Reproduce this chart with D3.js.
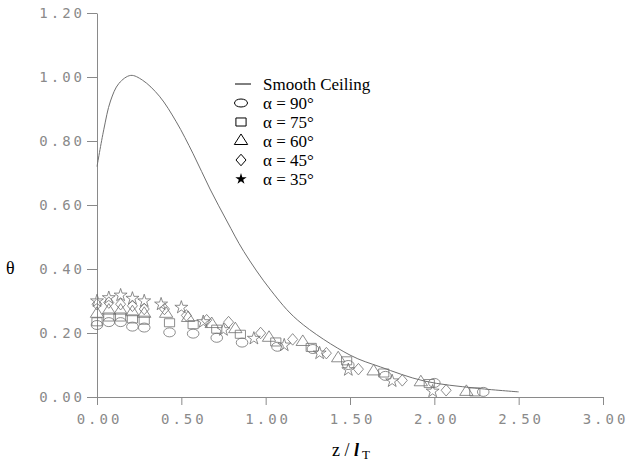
<!DOCTYPE html>
<html>
  <head>
    <meta charset="utf-8">
    <script src="https://d3js.org/d3.v7.min.js"></script>
    <style type="text/css">
      body { margin: 0; background: #ffffff; }
      .tick text { font-family: "DejaVu Sans Mono", monospace; font-size: 14px; fill: #8a8a8a; letter-spacing: 3px; }
      .serif { font-family: "Liberation Serif", "Times New Roman", serif; fill: #000; }
    </style>
  </head>
<body>
  <script type="text/javascript">
    // Smooth ceiling curve
    var ceilX = [0, 0.04, 0.08, 0.13, 0.2, 0.27, 0.37, 0.47, 0.57, 0.67, 0.77, 0.87, 1.03, 1.19, 1.5, 1.68, 1.94, 2.24, 2.5];
    var ceilY = [0.72, 0.835, 0.925, 0.98, 1.005, 0.99, 0.94, 0.86, 0.76, 0.65, 0.55, 0.455, 0.334, 0.24, 0.131, 0.094, 0.05, 0.028, 0.016];

    // measured points, one array per inclination angle: [z/lT, theta]
    var a90 = [[0,0.225],[0.07,0.234],[0.14,0.234],[0.21,0.22],[0.28,0.217],[0.43,0.202],[0.57,0.198],[0.71,0.185],[0.86,0.17],[1.07,0.157],[1.28,0.15],[1.49,0.10],[1.71,0.066],[2.0,0.044],[2.29,0.016]];
    var a75 = [[0,0.235],[0.07,0.25],[0.14,0.25],[0.21,0.244],[0.28,0.24],[0.43,0.232],[0.57,0.226],[0.71,0.212],[0.85,0.196],[1.06,0.172],[1.27,0.155],[1.48,0.113],[1.7,0.075],[1.97,0.042],[2.24,0.016]];
    var a60 = [[0,0.26],[0.07,0.27],[0.14,0.27],[0.21,0.265],[0.28,0.26],[0.41,0.26],[0.54,0.247],[0.68,0.228],[0.82,0.212],[1.02,0.185],[1.22,0.172],[1.43,0.121],[1.64,0.08],[1.92,0.046],[2.19,0.016]];
    var a45 = [[0,0.29],[0.07,0.295],[0.14,0.29],[0.21,0.285],[0.28,0.275],[0.40,0.275],[0.53,0.255],[0.65,0.24],[0.78,0.234],[0.97,0.2],[1.16,0.18],[1.36,0.137],[1.55,0.087],[1.81,0.052],[2.07,0.021]];
    var a35 = [[0,0.30],[0.07,0.31],[0.14,0.318],[0.21,0.308],[0.28,0.30],[0.38,0.29],[0.50,0.28],[0.63,0.235],[0.75,0.21],[0.93,0.183],[1.11,0.162],[1.32,0.137],[1.49,0.085],[1.75,0.05],[1.99,0.018]];

    var legendLabels = ["\u03b1 = 90\u00b0", "\u03b1 = 75\u00b0", "\u03b1 = 60\u00b0", "\u03b1 = 45\u00b0", "\u03b1 = 35\u00b0"];
    var xTicks = [0, 0.5, 1.0, 1.5, 2.0, 2.5, 3.0];
    var yTicks = [0, 0.2, 0.4, 0.6, 0.8, 1.0, 1.2];

    var width = 627, height = 462;
    var svg = d3.select("body").append("svg")
        .attr("width", width)
        .attr("height", height);

    var x = d3.scaleLinear().domain([0, 3]).range([97, 603]);
    var y = d3.scaleLinear().domain([0, 1.2]).range([397, 13]);
    var axisColor = "#8a8a8a";

    // y axis: minor then major ticks
    var gy = svg.append("g").attr("transform", "translate(97,0)");
    gy.call(d3.axisLeft(y).tickValues(d3.range(0, 1.2001, 0.02)).tickSize(6).tickFormat("").tickSizeOuter(0));
    gy.call(d3.axisLeft(y).tickValues(yTicks).tickSize(10).tickPadding(2).tickFormat(d3.format(".2f")).tickSizeOuter(0));

    // x axis
    var gx = svg.append("g").attr("transform", "translate(0,397)");
    gx.call(d3.axisBottom(x).tickValues(d3.range(0, 3.0001, 0.05)).tickSize(6).tickFormat("").tickSizeOuter(0));
    gx.call(d3.axisBottom(x).tickValues(xTicks).tickSize(8).tickPadding(9).tickFormat(d3.format(".2f")).tickSizeOuter(0));

    svg.selectAll(".domain, .tick line").attr("stroke", axisColor).attr("stroke-width", 1);
    gx.selectAll(".tick text").attr("dx", "2");

    // smooth ceiling line
    var line = d3.line()
        .x(function(d) { return x(d[0]); })
        .y(function(d) { return y(d[1]); })
        .curve(d3.curveCatmullRom.alpha(0.5));
    svg.append("path")
        .datum(d3.zip(ceilX, ceilY))
        .attr("d", line)
        .attr("fill", "none")
        .attr("stroke", "#707070")
        .attr("stroke-width", 1);

    // marker shapes
    var shapes = [
      { data: a90, path: null },
      { data: a75, path: d3.symbol().type(d3.symbolSquare).size(72)(), sx: 1.2, sy: 0.95 },
      { data: a60, path: d3.symbol().type(d3.symbolTriangle).size(64)(), sx: 1.1, sy: 1 },
      { data: a45, path: d3.symbol().type(d3.symbolDiamond2).size(64)(), sx: 1, sy: 1.15 },
      { data: a35, path: d3.symbol().type(d3.symbolStar).size(52)(), sx: 1, sy: 1 }
    ];
    var markerColor = "#707070";

    shapes.forEach(function(s) {
      var g = svg.append("g");
      var pts = g.selectAll("g").data(s.data).enter().append("g")
        .attr("transform", function(d) { return "translate(" + x(d[0]) + "," + y(d[1]) + ")"; });
      if (s.path === null) {
        pts.append("ellipse").attr("rx", 5.8).attr("ry", 4.5);
      } else {
        pts.append("path").attr("d", s.path)
          .attr("transform", "scale(" + s.sx + "," + s.sy + ")")
          .attr("vector-effect", "non-scaling-stroke");
      }
      pts.selectAll("*").attr("fill", "none").attr("stroke", markerColor).attr("stroke-width", 0.8);
    });

    // legend
    var lg = svg.append("g");
    lg.append("line").attr("x1", 235).attr("x2", 251).attr("y1", 84).attr("y2", 84)
      .attr("stroke", "#000").attr("stroke-width", 1);
    lg.append("text").attr("class", "serif").attr("x", 263).attr("y", 89.5)
      .style("font-size", "17px").text("Smooth Ceiling");

    var rowY = d3.range(5).map(function(i) { return 103 + i * 19; });
    legendLabels.forEach(function(lab, i) {
      var cy = rowY[i];
      var sg = lg.append("g").attr("transform", "translate(241," + cy + ")");
      if (i === 0) {
        sg.append("ellipse").attr("rx", 6.5).attr("ry", 4).attr("fill", "none").attr("stroke", "#000");
      } else if (i === 4) {
        sg.append("path").attr("d", d3.symbol().type(d3.symbolStar).size(40)()).attr("fill", "#000");
      } else {
        var p = shapes[i];
        sg.append("path").attr("d", p.path)
          .attr("transform", "scale(" + p.sx + "," + p.sy + ")")
          .attr("vector-effect", "non-scaling-stroke")
          .attr("fill", "none").attr("stroke", "#000").attr("stroke-width", 1);
      }
      lg.append("text").attr("class", "serif").attr("x", 263).attr("y", cy + 5.5)
        .style("font-size", "17px").text(lab);
    });

    // axis titles
    svg.append("text").attr("class", "serif").attr("x", 6).attr("y", 274)
      .style("font-size", "18px").text("\u03b8");

    var xt = svg.append("text").attr("class", "serif").attr("x", 332).attr("y", 456)
      .style("font-size", "18px");
    xt.append("tspan").text("z / ");
    xt.append("tspan").style("font-style", "italic").style("font-weight", "bold").text("l");
    xt.append("tspan").attr("dx", "3").attr("dy", "3").style("font-size", "13px").text("T");
  </script>
</body>
</html>
